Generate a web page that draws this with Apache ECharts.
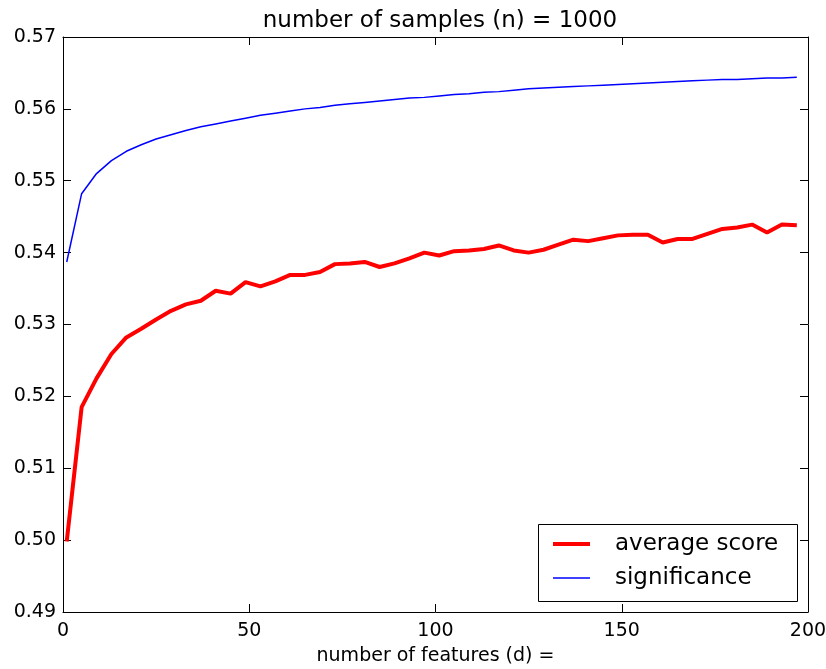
<!DOCTYPE html>
<html>
<head>
<meta charset="utf-8">
<script src="https://cdn.jsdelivr.net/npm/echarts@6/dist/echarts.min.js"></script>
<style>
  html, body { margin: 0; padding: 0; background: #fff; }
  #chart { width: 826px; height: 669px; }
</style>
</head>
<body>
<div id="chart"></div>
<script>
// number of features d = 1, 5, 9, ... 197
const features = [1, 5, 9, 13, 17, 21, 25, 29, 33, 37, 41, 45, 49, 53, 57, 61, 65, 69, 73, 77,
  81, 85, 89, 93, 97, 101, 105, 109, 113, 117, 121, 125, 129, 133, 137, 141, 145, 149, 153, 157,
  161, 165, 169, 173, 177, 181, 185, 189, 193, 197];

const averageScore = [0.4998, 0.5185, 0.5225, 0.5259, 0.5282, 0.5294, 0.5307, 0.5319, 0.5328, 0.5333,
  0.5347, 0.5343, 0.5359, 0.5353, 0.5360, 0.5369, 0.5369, 0.5373, 0.5384, 0.5385,
  0.5387, 0.5380, 0.5385, 0.5392, 0.5400, 0.5396, 0.5402, 0.5403, 0.5405, 0.5410,
  0.5403, 0.5400, 0.5404, 0.5411, 0.5418, 0.5416, 0.5420, 0.5424, 0.5425, 0.5425,
  0.5414, 0.5419, 0.5419, 0.5426, 0.5433, 0.5435, 0.5439, 0.5428, 0.5439, 0.5438];

const significance = [0.5387, 0.5482, 0.5510, 0.5528, 0.5541, 0.5550, 0.5558, 0.5564, 0.5570, 0.5575,
  0.5579, 0.5583, 0.5587, 0.5591, 0.5594, 0.5597, 0.5600, 0.5602, 0.5605, 0.5607,
  0.5609, 0.5611, 0.5613, 0.5615, 0.5616, 0.5618, 0.5620, 0.5621, 0.5623, 0.5624,
  0.5626, 0.5628, 0.5629, 0.5630, 0.5631, 0.5632, 0.5633, 0.5634, 0.5635, 0.5636,
  0.5637, 0.5638, 0.5639, 0.5640, 0.5641, 0.5641, 0.5642, 0.5643, 0.5643, 0.5644];

const xTicks = [0, 50, 100, 150, 200];
const yTicks = [0.49, 0.50, 0.51, 0.52, 0.53, 0.54, 0.55, 0.56, 0.57];

const font = "DejaVu Sans";
const chart = echarts.init(document.getElementById("chart"));

const baseX = {
  type: "value",
  min: xTicks[0],
  max: xTicks[xTicks.length - 1],
  interval: 50,
  splitLine: { show: false },
  axisLine: { show: true, onZero: false, lineStyle: { color: "#000", width: 1 } },
  axisTick: { show: true, inside: true, length: 8, lineStyle: { color: "#000" } },
};
const baseY = {
  type: "value",
  min: yTicks[0],
  max: yTicks[yTicks.length - 1],
  interval: 0.01,
  splitLine: { show: false },
  axisLine: { show: true, onZero: false, lineStyle: { color: "#000", width: 1 } },
  axisTick: { show: true, inside: true, length: 8, lineStyle: { color: "#000" } },
};

// one legend per entry so each line sample keeps its own thickness
const legendText = { fontFamily: font, fontSize: 23, color: "#000", lineHeight: 28, padding: [0, 0, 0, 20] };

chart.setOption({
  animation: false,
  backgroundColor: "#fff",
  title: {
    text: "number of samples (n) = 1000",
    left: 435,
    textAlign: "center",
    top: 5,
    textStyle: { fontFamily: font, fontSize: 23, fontWeight: "normal", color: "#000" },
  },
  grid: { left: 63, right: 18, top: 37, bottom: 57, containLabel: false, outerBoundsMode: "none" },
  graphic: [
    {
      type: "rect",
      left: 538,
      top: 524,
      shape: { width: 259, height: 77 },
      style: { fill: "#fff", stroke: "#000", lineWidth: 1 },
      z: 50,
    },
  ],
  legend: [
    {
      left: 553,
      top: 530,
      padding: 0,
      itemWidth: 37,
      itemHeight: 4,
      icon: "rect",
      textStyle: legendText,
      data: ["average score"],
      z: 60,
    },
    {
      left: 553,
      top: 564,
      padding: 0,
      itemWidth: 37,
      itemHeight: 1.5,
      icon: "rect",
      textStyle: legendText,
      data: ["significance"],
      z: 60,
    },
  ],
  xAxis: [
    Object.assign({}, baseX, {
      position: "bottom",
      name: "number of features (d) =",
      nameLocation: "middle",
      nameGap: 35,
      nameTextStyle: { fontFamily: font, fontSize: 19, color: "#000" },
      axisLabel: { fontFamily: font, fontSize: 19, color: "#000", margin: 10 },
    }),
    Object.assign({}, baseX, { position: "top", axisLabel: { show: false } }),
  ],
  yAxis: [
    Object.assign({}, baseY, {
      position: "left",
      axisLabel: {
        fontFamily: font, fontSize: 19, color: "#000", margin: 7,
        formatter: (v) => v.toFixed(2),
      },
    }),
    Object.assign({}, baseY, { position: "right", axisLabel: { show: false } }),
  ],
  series: [
    {
      name: "average score",
      type: "line",
      symbol: "none",
      color: "#ff0000",
      lineStyle: { color: "#ff0000", width: 4 },
      data: features.map((d, i) => [d, averageScore[i]]),
      z: 3,
    },
    {
      name: "significance",
      type: "line",
      symbol: "none",
      color: "#0000ff",
      lineStyle: { color: "#0000ff", width: 1.5 },
      data: features.map((d, i) => [d, significance[i]]),
      z: 2,
    },
  ],
});
</script>
</body>
</html>
